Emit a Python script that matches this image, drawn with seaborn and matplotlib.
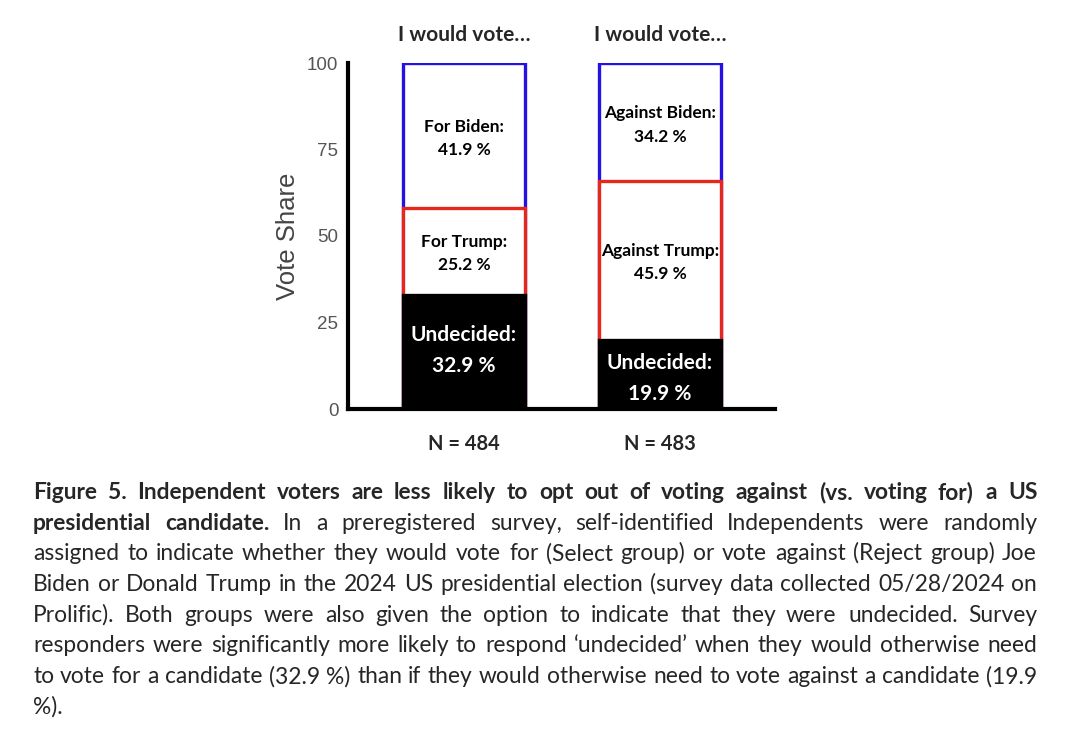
import numpy as np
import pandas as pd
import matplotlib.pyplot as plt
import seaborn as sns
from matplotlib import font_manager as fm

# -- Data
groups = ["Select", "Reject"]
undecided = [32.9, 19.9]
trump = [25.2, 45.9]
biden = [41.9, 34.2]
undecided_labels = ["Undecided:", "Undecided:"]
trump_labels = ["For Trump:", "Against Trump:"]
biden_labels = ["For Biden:", "Against Biden:"]
top_titles = ["I would vote…", "I would vote…"]
n_labels = ["N = 484", "N = 483"]
y_ticks = [0, 25, 50, 75, 100]

caption_lines = [
    [("Figure 5. Independent voters are less likely to opt out of voting against (vs. voting for) a US", True)],
    [("presidential candidate.", True),
     ("In a preregistered survey, self-identified Independents were randomly", False)],
    [("assigned to indicate whether they would vote for (Select group) or vote against (Reject group) Joe", False)],
    [("Biden or Donald Trump in the 2024 US presidential election (survey data collected 05/28/2024 on", False)],
    [("Prolific). Both groups were also given the option to indicate that they were undecided. Survey", False)],
    [("responders were significantly more likely to respond \u2018undecided\u2019 when they would otherwise need", False)],
    [("to vote for a candidate (32.9 %) than if they would otherwise need to vote against a candidate (19.9", False)],
    [("%).", False)],
]

BLUE = "#2412e4"
RED = "#e6281c"
TICK_GREY = "#555555"

df = pd.DataFrame({
    "group": groups,
    "undecided": undecided,
    "trump_top": np.add(undecided, trump),
    "biden_top": np.add(np.add(undecided, trump), biden),
})

sns.set_style("white")
plt.rcParams["font.family"] = "Lato"

W, H = 1072, 750
fig = plt.figure(figsize=(W / 100, H / 100), dpi=100)
ax = fig.add_axes([348 / W, 1 - 409 / H, (775 - 348) / W, (409 - 63) / H])

bar_w = 0.62
sns.barplot(data=df, x="group", y="biden_top", color="white", saturation=1,
            edgecolor=BLUE, linewidth=2.4, width=bar_w, ax=ax)
sns.barplot(data=df, x="group", y="trump_top", color="white", saturation=1,
            edgecolor=RED, linewidth=2.4, width=bar_w, ax=ax)
sns.barplot(data=df, x="group", y="undecided", color="black", saturation=1,
            edgecolor="black", linewidth=2.4, width=bar_w, ax=ax)

ax.set_xlim(-0.592, 1.587)
ax.set_ylim(0, 100)
ax.set_xlabel("")
ax.set_xticks([])
ax.set_yticks(y_ticks)
ax.set_yticklabels([str(t) for t in y_ticks], family="Liberation Sans",
                   fontsize=13.5, color=TICK_GREY)
ax.tick_params(axis="y", length=0, pad=7)
ax.set_ylabel("Vote Share", family="Liberation Sans", fontsize=18.5,
              color="#444444", labelpad=5)
for side in ["top", "right"]:
    ax.spines[side].set_visible(False)
for side in ["left", "bottom"]:
    ax.spines[side].set_linewidth(3)
    ax.spines[side].set_color("black")

# -- Segment labels (small nudges so the two lines sit as in the original)
undecided_nudge = [0.4, -1.2]
for i in range(len(groups)):
    u = undecided[i]
    t = trump[i]
    b = biden[i]
    ax.text(i, u / 2 + undecided_nudge[i], f"{undecided_labels[i]}\n{u} %",
            ha="center", va="center", color="white", fontweight="bold",
            fontsize=15, linespacing=1.68)
    ax.text(i, u + t / 2 - 0.5, f"{trump_labels[i]}\n{t} %", ha="center", va="center",
            color="black", fontweight="bold", fontsize=12.5, linespacing=1.55)
    ax.text(i, u + t + b / 2 - 0.8, f"{biden_labels[i]}\n{b} %", ha="center", va="center",
            color="black", fontweight="bold", fontsize=12.5, linespacing=1.55)
    ax.text(i, 1.081, top_titles[i], transform=ax.get_xaxis_transform(),
            ha="center", va="center", fontweight="bold", fontsize=15)
    ax.text(i, -0.101, n_labels[i], transform=ax.get_xaxis_transform(),
            ha="center", va="center", fontweight="bold", fontsize=14.5)

# -- Justified caption, fonts pinned to their files
cap_left, cap_right = 33, 1037
base0, step = 499, 30.7
renderer = fig.canvas.get_renderer()
font_files = {
    True: fm.findfont(fm.FontProperties(family="Lato", weight="bold")),
    False: fm.findfont(fm.FontProperties(family="Lato", weight="normal")),
}


def cap_font(bold, size):
    return fm.FontProperties(fname=font_files[bold], size=size)


def word_width(word, bold, size):
    t = fig.text(0, 0, word, fontproperties=cap_font(bold, size))
    w = t.get_window_extent(renderer).width
    t.remove()
    return w


# pick the size where the widest caption line just fits with plain spaces
probe = 14.0
probe_space = word_width("a a", False, probe) - word_width("aa", False, probe)
natural = []
for segs in caption_lines[:-1]:
    natural.append(sum(word_width(txt, bold, probe) for txt, bold in segs)
                   + (len(segs) - 1) * probe_space)
cap_size = round(probe * (cap_right - cap_left - 4) / max(natural), 1)

space_w = word_width("a a", False, cap_size) - word_width("aa", False, cap_size)
for li, segs in enumerate(caption_lines):
    words = []
    for txt, bold in segs:
        words += [(w, bold) for w in txt.split(" ")]
    widths = [word_width(w, b, cap_size) for w, b in words]
    last = li == len(caption_lines) - 1
    if last or len(words) < 2:
        gap = space_w
    else:
        gap = (cap_right - cap_left - sum(widths)) / (len(words) - 1)
    x = cap_left
    y = base0 + step * li
    for (w, b), wd in zip(words, widths):
        fig.text(round(x) / W, 1 - y / H, w, fontproperties=cap_font(b, cap_size),
                 va="baseline", ha="left")
        x += wd + gap

fig.savefig("out.png", dpi=100)
